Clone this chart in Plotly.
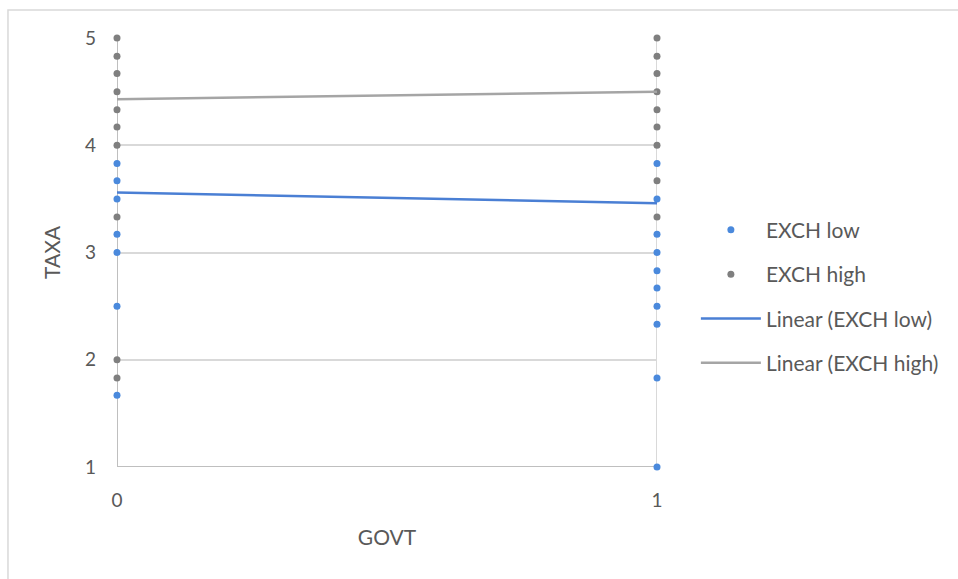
import plotly.graph_objects as go

# GOVT groups on the x axis
govt = [0, 1]

# TAXA values observed for low exchange (EXCH low)
low_govt0 = [3.83, 3.67, 3.5, 3.17, 3.0, 2.5, 1.67]
low_govt1 = [3.83, 3.5, 3.17, 3.0, 2.83, 2.67, 2.5, 2.33, 1.83, 1.0]

# TAXA values observed for high exchange (EXCH high)
high_govt0 = [5.0, 4.83, 4.67, 4.5, 4.33, 4.17, 4.0, 3.33, 2.0, 1.83]
high_govt1 = [5.0, 4.83, 4.67, 4.5, 4.33, 4.17, 4.0, 3.67, 3.33]

# Linear trend values at GOVT = 0 and GOVT = 1
trend_low = [3.56, 3.46]
trend_high = [4.43, 4.50]

y_ticks = [1, 2, 3, 4, 5]

BLUE = "#4a89dc"
BLUE_LINE = "#4a7fd4"
GRAY = "#7f7f7f"
GRAY_LINE = "#a5a5a5"
TEXT = "#595959"
FONT = "Lato, 'Open Sans', sans-serif"

fig = go.Figure()

fig.add_trace(go.Scatter(
    x=[govt[0]] * len(low_govt0) + [govt[1]] * len(low_govt1),
    y=low_govt0 + low_govt1,
    mode="markers", name="EXCH low", legendgroup="a", cliponaxis=False,
    marker=dict(color=BLUE, size=7),
))
fig.add_trace(go.Scatter(
    x=[govt[0]] * len(high_govt0) + [govt[1]] * len(high_govt1),
    y=high_govt0 + high_govt1,
    mode="markers", name="EXCH high", legendgroup="b", cliponaxis=False,
    marker=dict(color=GRAY, size=7),
))
fig.add_trace(go.Scatter(
    x=govt, y=trend_low, mode="lines", name="Linear (EXCH low)",
    legendgroup="c", line=dict(color=BLUE_LINE, width=2.5),
))
fig.add_trace(go.Scatter(
    x=govt, y=trend_high, mode="lines", name="Linear (EXCH high)",
    legendgroup="d", line=dict(color=GRAY_LINE, width=2.5),
))

# outer chart border
fig.add_shape(type="rect", xref="paper", yref="paper",
              x0=-0.2019, x1=2.0, y0=-1.0, y1=1.0653,
              line=dict(color="#d9d9d9", width=1.5), layer="below")

fig.update_layout(
    width=958, height=579,
    margin=dict(l=117, r=301, t=38, b=112),
    paper_bgcolor="white", plot_bgcolor="white",
    font=dict(family=FONT, color=TEXT, size=19),
    showlegend=True,
    legend=dict(
        x=1.072, xanchor="left", y=0.397, yanchor="middle",
        font=dict(size=21, color=TEXT, family=FONT),
        tracegroupgap=14, itemwidth=60,
        bgcolor="rgba(0,0,0,0)",
    ),
    xaxis=dict(
        range=[0, 1], tickvals=govt, ticktext=[str(v) for v in govt],
        showgrid=True, gridcolor="#d9d9d9", gridwidth=1.5,
        zeroline=False, showline=False,
        ticks="", ticklabelstandoff=20,
        title=dict(text="GOVT", standoff=20, font=dict(size=21, color=TEXT)),
        layer="below traces",
    ),
    yaxis=dict(
        range=[1, 5], tickvals=y_ticks,
        showgrid=True, gridcolor="#d9d9d9", gridwidth=1.5,
        zeroline=False, showline=False,
        ticks="", ticklabelstandoff=20,
        title=dict(text="TAXA", standoff=18, font=dict(size=21, color=TEXT)),
        layer="below traces",
    ),
)

# axis lines along x = 0 and y = 1, and the gridline at x = 1
fig.add_shape(type="line", xref="x", yref="y", x0=1, x1=1, y0=1, y1=5,
              line=dict(color="#d9d9d9", width=2), layer="below")
fig.add_shape(type="line", xref="x", yref="y", x0=0, x1=0, y0=1, y1=5,
              line=dict(color="#bfbfbf", width=2), layer="below")
fig.add_shape(type="line", xref="x", yref="y", x0=0, x1=1, y0=1, y1=1,
              line=dict(color="#bfbfbf", width=2), layer="below")

fig.write_html("out.html")
